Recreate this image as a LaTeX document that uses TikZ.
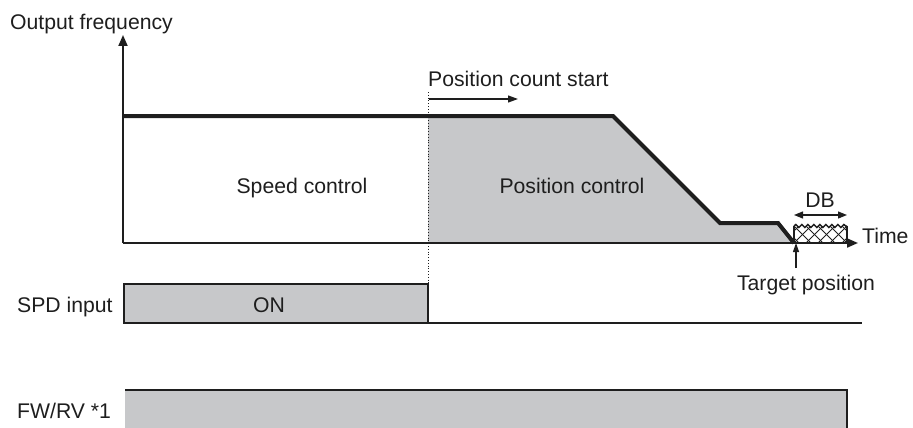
\documentclass[tikz,border=0pt]{standalone}
\usepackage{fontspec}
\setmainfont{Liberation Sans}
\usetikzlibrary{arrows.meta,decorations.pathmorphing}
\definecolor{fillgray}{RGB}{199,200,202}
\definecolor{ink}{RGB}{30,30,30}
\begin{document}
\begin{tikzpicture}[x=1pt,y=-1pt,
  lbl/.style={font=\fontsize{21.2}{25}\selectfont, inner sep=0pt, text=ink},
  axisline/.style={draw=ink, line width=2pt},
  freqline/.style={draw=ink, line width=4pt, line join=miter},
  tip/.style={-{Triangle[length=11pt,width=9pt]}},
  boxline/.style={draw=ink, line width=2pt, fill=fillgray}]
\useasboundingbox (0,0) rectangle (913,428);
% coordinates
\coordinate (O) at (123,243);
\coordinate (ytop) at (123,35);
\coordinate (xend) at (858,243);
\coordinate (f0) at (123,116);
\coordinate (f1) at (613,116);
\coordinate (f2) at (720,223);
\coordinate (f3) at (778,223);
\coordinate (f4) at (794,243);
\coordinate (pc) at (428,116);
\coordinate (pcb) at (428,243);
% gray area
\fill[fillgray] (pc) -- (f1) -- (f2) -- (f3) -- (f4) -- (pcb) -- cycle;
% hatched dead band
\begin{scope}
  \clip (794,226) rectangle (847,243);
  \foreach \i in {-60,-48,...,60} {
    \draw[ink, line width=0.8pt] (794+\i,243) -- ++(30,-30);
    \draw[ink, line width=0.8pt] (794+\i,226) -- ++(30,30);
  }
\end{scope}
\draw[ink, line width=1.5pt, decorate, decoration={snake, segment length=6pt, amplitude=1.5pt}] (794,226) -- (847,226);
\draw[ink, line width=1.2pt] (794,226) -- (794,243);
\draw[ink, line width=2.5pt] (847,226) -- (847,243);
% axes
\draw[axisline, tip] (O) -- (ytop);
\draw[axisline, tip] (O) -- (xend);
% frequency profile
\draw[freqline] (f0) -- (f1) -- (f2) -- (f3) -- (f4);
% dotted line
\draw[ink, dotted, line width=0.8pt] (428,92) -- (428,284);
% labels
\node[lbl, anchor=base west] (of) at (10,30) {Output frequency};
\node[lbl, anchor=base west] (pcs) at (428,87) {Position count start};
\coordinate (pa0) at (429,99);
\coordinate (pa1) at (518,99);
\draw[ink, line width=1.2pt, -{Triangle[length=10pt,width=7pt]}] (pa0) -- (pa1);
\node[lbl, anchor=base] (sc) at (302,193) {Speed control};
\node[lbl, anchor=base] (pcn) at (572,193) {Position control};
\node[lbl, anchor=base west] (tm) at (862,243) {Time};
\node[lbl, anchor=base] (db) at (820,207) {DB};
\coordinate (db0) at (794,215);
\coordinate (db1) at (847,215);
\draw[ink, line width=1.2pt, {Triangle[length=9pt,width=7pt]}-{Triangle[length=9pt,width=7pt]}] (db0) -- (db1);
\node[lbl, anchor=base] (tp) at (806,290) {Target position};
\coordinate (ta0) at (796,268);
\coordinate (ta1) at (796,243);
\draw[ink, line width=1.2pt, -{Triangle[length=9pt,width=6pt]}] (ta0) -- (ta1);
% SPD input
\node[lbl, anchor=base west] (spd) at (17,312) {SPD input};
\draw[boxline] (124,284) rectangle (428,323);
\node[lbl, anchor=base] (on) at (269,312) {ON};
\coordinate (s1) at (428,323);
\coordinate (s2) at (862,323);
\draw[ink, line width=1.2pt] (s1) -- (s2);
% FW/RV
\node[lbl, anchor=base west] (fw) at (17,418) {FW/RV *1};
\fill[fillgray] (125,390) rectangle (847,430);
\draw[ink, line width=2pt] (125,390) -- (847,390) -- (847,430);
\end{tikzpicture}
\end{document}
